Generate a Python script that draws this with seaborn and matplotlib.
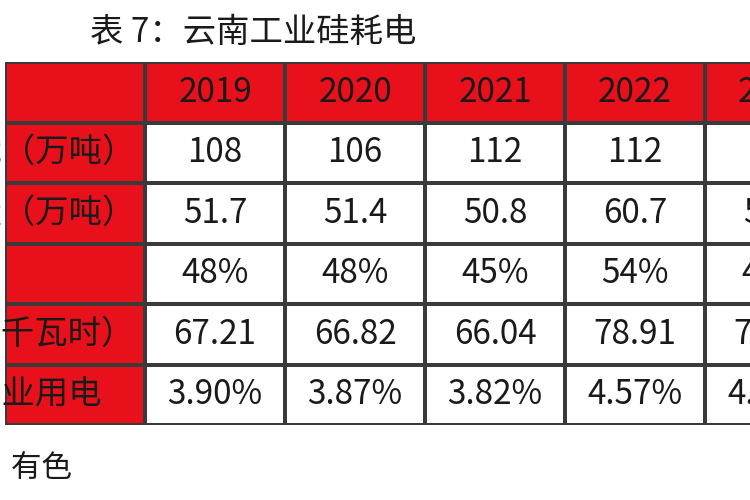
import numpy as np
import pandas as pd
import seaborn as sns
import matplotlib
matplotlib.use("Agg")
import matplotlib.pyplot as plt
from matplotlib.colors import ListedColormap

sns.set_style("white")
plt.rcParams['font.family'] = ['Noto Sans CJK SC', 'DejaVu Sans']

title = "表 7：云南工业硅耗电"
years = ["2019", "2020", "2021", "2022", "2023"]
row_labels = ["工业硅产能（万吨）", "工业硅产量（万吨）", "", "耗电量（亿千瓦时）", "占云南工业用电"]
capacity = ["108", "106", "112", "112", "118"]
output = ["51.7", "51.4", "50.8", "60.7", "55.0"]
utilization = ["48%", "48%", "45%", "54%", "47%"]
power = ["67.21", "66.82", "66.04", "78.91", "71.50"]
share = ["3.90%", "3.87%", "3.82%", "4.57%", "4.10%"]
source = "资料来源：百川盈孚，有色"

rows = [capacity, output, utilization, power, share]
nrows, ncols = len(rows) + 1, len(years) + 1
mask_vals = np.zeros((nrows, ncols))
mask_vals[0, :] = 1
mask_vals[:, 0] = 1

fig = plt.figure(figsize=(7.5, 5), dpi=100)
ax = fig.add_axes([5/750, 75/500, 840/750, 363/500])
sns.heatmap(pd.DataFrame(mask_vals), ax=ax, cmap=ListedColormap(["white", "#e8101a"]),
            cbar=False, linewidths=1.5, linecolor="#3a3a3a", xticklabels=False, yticklabels=False)
ax.set_xlabel(""); ax.set_ylabel("")

fs = 24
tc = "#1a1a1a"
for j, y in enumerate(years):
    ax.text(j + 1.5, 0.5, y, ha="center", va="center", fontsize=fs, color=tc)
for i, lab in enumerate(row_labels):
    ax.text(-0.14, i + 1.5, lab, ha="center", va="center", fontsize=fs, color=tc)
for i, r in enumerate(rows):
    for j, v in enumerate(r):
        ax.text(j + 1.5, i + 1.5, v, ha="center", va="center", fontsize=fs, color=tc)

fig.text(90/750, 1 - 32/500, title, ha="left", va="center", fontsize=24, color=tc)
fig.text(72/750, 1 - 468/500, source, ha="right", va="center", fontsize=22, color=tc)

fig.savefig("out.png", dpi=100)
